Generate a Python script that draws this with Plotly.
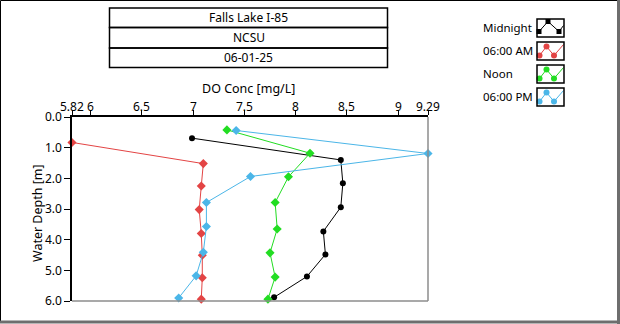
import plotly.graph_objects as go

# ---- data ----
series_names = ["Midnight", "06:00 AM", "Noon", "06:00 PM"]
midnight_do = [6.99, 8.44, 8.46, 8.44, 8.27, 8.29, 8.11, 7.79]
midnight_depth = [0.69, 1.40, 2.16, 2.94, 3.73, 4.48, 5.20, 5.88]
am_do = [5.82, 7.10, 7.08, 7.06, 7.08, 7.09, 7.09, 7.08]
am_depth = [0.83, 1.52, 2.25, 3.02, 3.80, 4.51, 5.24, 5.94]
noon_do = [7.33, 8.14, 7.93, 7.80, 7.82, 7.75, 7.80, 7.73]
noon_depth = [0.42, 1.18, 1.95, 2.79, 3.65, 4.43, 5.22, 5.94]
pm_do = [7.42, 9.29, 7.56, 7.13, 7.13, 7.10, 7.03, 6.86]
pm_depth = [0.44, 1.19, 1.94, 2.79, 3.57, 4.41, 5.18, 5.90]

x_tickvals = [5.82, 6, 6.5, 7, 7.5, 8, 8.5, 9, 9.29]
x_ticktext = ["5.82", "6", "6.5", "7", "7.5", "8", "8.5", "9", "9.29"]
y_tickvals = [0, 1, 2, 3, 4, 5, 6]
title_lines = ["Falls Lake I-85", "NCSU", "06-01-25"]

colors = ["#000000", "#E34444", "#22DD22", "#4BB6E8"]
symbols = ["circle", "diamond", "diamond", "diamond"]

W, H = 620, 324
FONT = "Noto Sans"


def px(x):
    return x / W


def py(y):
    return (H - y) / H


# plot area in pixels
L, R, T, B = 72, 428, 117, 301

fig = go.Figure()

series = [(midnight_do, midnight_depth), (am_do, am_depth),
          (noon_do, noon_depth), (pm_do, pm_depth)]
for (xs, ys), name, c, s in zip(series, series_names, colors, symbols):
    fig.add_trace(go.Scatter(
        x=xs, y=ys, mode="lines+markers", name=name,
        line=dict(color=c, width=1),
        marker=dict(color=c, size=7 if s == "diamond" else 6, symbol=s),
        cliponaxis=False, showlegend=False))

# legend glyphs on an overlay pixel axis
box_tops = [19, 42, 65, 88]
box_x0, box_x1, box_h = 537, 564, 18
for i, (c, top) in enumerate(zip(colors, box_tops)):
    if i == 0:
        gx = [box_x0 + 2, box_x0 + 11, box_x0 + 22, box_x0 + 26.5]
        gy = [top + 12.5, top + 2.5, top + 12.5, top + 6.5]
        sym, sz = "square", 5
    else:
        gx = [box_x0 + 2.5, box_x0 + 9.5, box_x0 + 17, box_x0 + 26.5]
        gy = [top + 13.5, top + 4.5, top + 13.5, top + 2.5]
        sym, sz = "circle", 6
    fig.add_trace(go.Scatter(x=gx, y=gy, mode="lines", xaxis="x2", yaxis="y2",
                             line=dict(color=c, width=1), showlegend=False,
                             hoverinfo="skip", cliponaxis=False))
    fig.add_trace(go.Scatter(x=gx[:3], y=gy[:3], mode="markers", xaxis="x2", yaxis="y2",
                             marker=dict(color=c, size=sz, symbol=sym), showlegend=False,
                             hoverinfo="skip", cliponaxis=False))

shapes = []
# outer frame
shapes.append(dict(type="line", xref="paper", yref="paper", x0=px(0.5), x1=px(618), y0=py(0.5), y1=py(0.5),
                   line=dict(color="black", width=1)))
shapes.append(dict(type="line", xref="paper", yref="paper", x0=px(0.5), x1=px(0.5), y0=py(0.5), y1=py(321),
                   line=dict(color="black", width=1)))
shapes.append(dict(type="line", xref="paper", yref="paper", x0=px(618.5), x1=px(618.5), y0=py(0), y1=py(324),
                   line=dict(color="#6E6E6E", width=3)))
shapes.append(dict(type="line", xref="paper", yref="paper", x0=px(0), x1=px(620), y0=py(322), y1=py(322),
                   line=dict(color="#6E6E6E", width=3)))
# plot frame right and bottom (gray)
shapes.append(dict(type="line", xref="paper", yref="paper", x0=px(R), x1=px(R), y0=py(T), y1=py(B),
                   line=dict(color="#8C8C8C", width=1.5)))
shapes.append(dict(type="line", xref="paper", yref="paper", x0=px(L), x1=px(R), y0=py(B), y1=py(B),
                   line=dict(color="#8C8C8C", width=1.5)))
# title boxes
row_edges = [8, 27.5, 48, 67.5]
bx0, bx1 = 109.5, 387.5
for i in range(3):
    shapes.append(dict(type="rect", xref="paper", yref="paper", x0=px(bx0), x1=px(bx1),
                       y0=py(row_edges[i]), y1=py(row_edges[i + 1]),
                       line=dict(color="black", width=1.5)))
# legend boxes
for top in box_tops:
    shapes.append(dict(type="rect", xref="paper", yref="paper", x0=px(box_x0), x1=px(box_x1),
                       y0=py(top), y1=py(top + box_h), line=dict(color="black", width=1.5)))

annotations = []
for i, t in enumerate(title_lines):
    annotations.append(dict(text=t, x=px((bx0 + bx1) / 2), y=py((row_edges[i] + row_edges[i + 1]) / 2),
                            xref="paper", yref="paper", showarrow=False, xanchor="center", yanchor="middle",
                            font=dict(size=12, color="black", family=FONT)))
for name, top in zip(series_names, box_tops):
    annotations.append(dict(text=name, x=px(481), y=py(top + 8.5), xref="paper", yref="paper",
                            showarrow=False, xanchor="left", yanchor="middle",
                            font=dict(size=11.5, color="black", family=FONT)))
# top-axis tick labels, positioned through the x axis scale
for v, t in zip(x_tickvals, x_ticktext):
    annotations.append(dict(text=t, x=v, xref="x", y=py(106), yref="paper", showarrow=False,
                            xanchor="center", yanchor="middle",
                            font=dict(size=12, color="black", family=FONT)))
annotations.append(dict(text="DO Conc [mg/L]", x=px(248), y=py(88), xref="paper", yref="paper",
                        showarrow=False, xanchor="center", yanchor="middle",
                        font=dict(size=12.5, color="black", family=FONT)))
annotations.append(dict(text="Water Depth [m]", x=px(37), y=py(213), xref="paper", yref="paper",
                        showarrow=False, xanchor="center", yanchor="middle", textangle=-90,
                        font=dict(size=12.5, color="black", family=FONT)))

fig.update_layout(
    width=W, height=H,
    margin=dict(l=0, r=0, t=0, b=0),
    paper_bgcolor="white", plot_bgcolor="rgba(0,0,0,0)",
    font=dict(family=FONT, size=12, color="black"),
    xaxis=dict(domain=[px(L), px(R)], side="top", range=[5.82, 9.29],
               tickvals=x_tickvals, showticklabels=False,
               ticks="outside", ticklen=5, tickcolor="black", tickwidth=1,
               showline=True, linecolor="black", linewidth=1.5,
               showgrid=False, zeroline=False, automargin=False),
    yaxis=dict(domain=[py(B), py(T)], range=[6, 0],
               tickvals=y_tickvals, tickformat=".1f",
               ticks="outside", ticklen=6, tickcolor="black", tickwidth=1,
               showline=True, linecolor="black", linewidth=1.5,
               showgrid=False, zeroline=False, automargin=False,
               tickfont=dict(size=12, family=FONT)),
    xaxis2=dict(domain=[0, 1], range=[0, W], visible=False, anchor="y2"),
    yaxis2=dict(domain=[0, 1], range=[H, 0], visible=False, anchor="x2"),
    shapes=shapes,
    annotations=annotations,
    showlegend=False,
)

fig.write_html("out.html", config={"displayModeBar": False},
               post_script="document.body.style.margin='0';")
